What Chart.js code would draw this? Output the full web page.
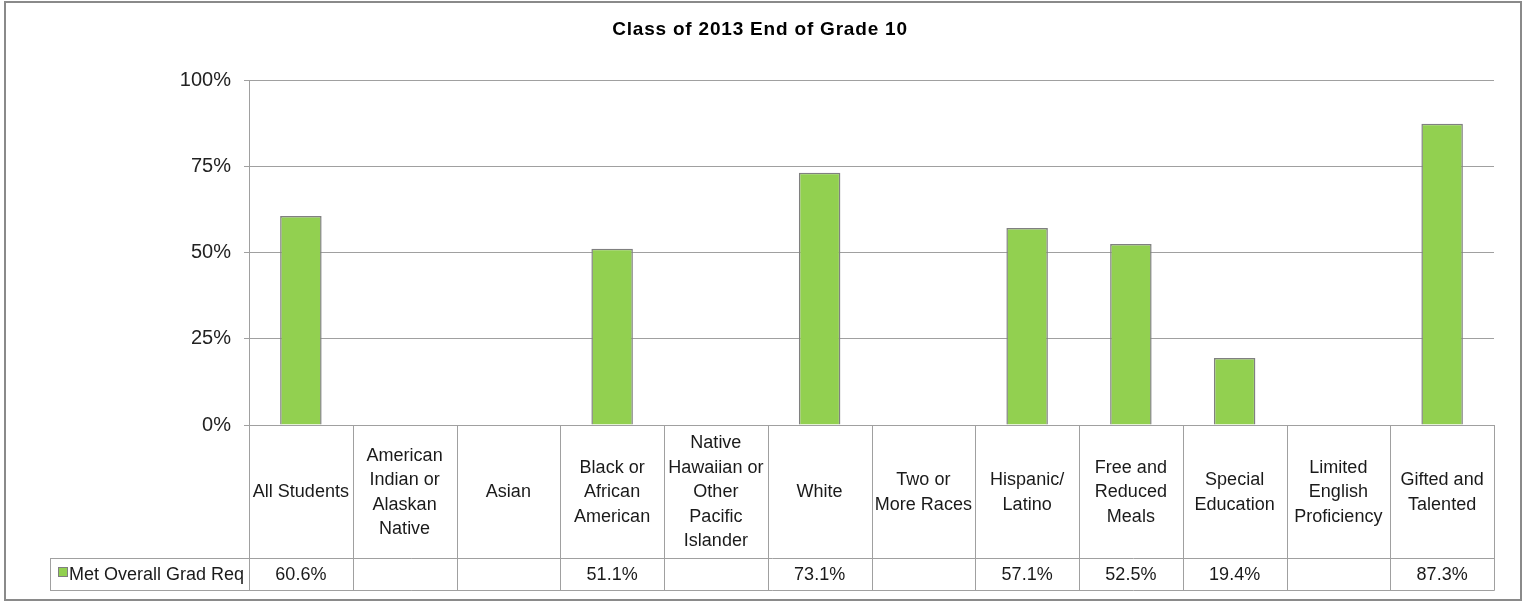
<!DOCTYPE html>
<html><head><meta charset="utf-8">
<script src="https://cdn.jsdelivr.net/npm/chart.js@4/dist/chart.umd.min.js"></script>
<style>html,body{margin:0;padding:0;background:#fff;overflow:hidden;}</style>
</head><body>
<canvas id="c" width="1525" height="603"></canvas>
<script>
const chartTitle = 'Class of 2013 End of Grade 10';
const seriesName = 'Met Overall Grad Req';
const categories = [
  ['All Students'],
  ['American', 'Indian or', 'Alaskan', 'Native'],
  ['Asian'],
  ['Black or', 'African', 'American'],
  ['Native', 'Hawaiian or', 'Other', 'Pacific', 'Islander'],
  ['White'],
  ['Two or', 'More Races'],
  ['Hispanic/', 'Latino'],
  ['Free and', 'Reduced', 'Meals'],
  ['Special', 'Education'],
  ['Limited', 'English', 'Proficiency'],
  ['Gifted and', 'Talented']
];
const metOverallGradReq = [60.6, null, null, 51.1, null, 73.1, null, 57.1, 52.5, 19.4, null, 87.3];
const yTickValues = [0, 25, 50, 75, 100];

const FONT = '"Liberation Sans", Arial, sans-serif';
const LINE = '#a0a0a0';
const BAR = '#92D050';

function px(v){ return Math.round(v) + 0.5; }

const framePlugin = {
  id: 'frame',
  beforeDraw(chart){
    const ctx = chart.ctx;
    ctx.save();
    ctx.fillStyle = '#fff';
    ctx.fillRect(0, 0, chart.width, chart.height);
    ctx.restore();
  },
  afterDraw(chart){
    const {ctx, chartArea: ca, scales} = chart;
    const x = scales.x;
    const n = categories.length;
    const colW = (ca.right - ca.left) / n;
    const top = ca.bottom;
    const rowB = top + 133;
    const valB = rowB + 32;
    const legendLeft = 50;
    ctx.save();
    // title
    ctx.fillStyle = '#000';
    ctx.font = 'bold 19px ' + FONT;
    ctx.textAlign = 'center';
    ctx.textBaseline = 'middle';
    try { ctx.letterSpacing = '0.8px'; } catch(e) {}
    ctx.fillText(chartTitle, 760, 30);
    try { ctx.letterSpacing = '0px'; } catch(e) {}

    ctx.strokeStyle = LINE;
    ctx.lineWidth = 1;
    const line = (x1, y1, x2, y2) => { ctx.beginPath(); ctx.moveTo(x1, y1); ctx.lineTo(x2, y2); ctx.stroke(); };
    line(ca.left, px(top), ca.right, px(top));
    line(legendLeft, px(rowB), ca.right + 0.5, px(rowB));
    line(legendLeft, px(valB), ca.right + 0.5, px(valB));
    for (let i = 0; i <= n; i++) {
      const xx = i < n ? x.getPixelForValue(i) - colW / 2 : x.getPixelForValue(n - 1) + colW / 2;
      line(px(xx), top, px(xx), px(valB));
    }
    line(px(legendLeft), px(rowB), px(legendLeft), px(valB));

    // category labels
    ctx.fillStyle = '#1a1a1a';
    ctx.font = '18px ' + FONT;
    ctx.textAlign = 'center';
    ctx.textBaseline = 'middle';
    const lh = 24.5;
    const midY = (top + rowB) / 2 + 1;
    categories.forEach((lines, i) => {
      const cx = x.getPixelForValue(i);
      const y0 = midY - (lines.length - 1) * lh / 2;
      lines.forEach((t, j) => ctx.fillText(t, cx, y0 + j * lh));
    });
    // values row
    const vy = (rowB + valB) / 2 + 1;
    metOverallGradReq.forEach((v, i) => {
      if (v === null) return;
      ctx.fillText(v.toFixed(1) + '%', x.getPixelForValue(i), vy);
    });
    // legend key
    ctx.fillStyle = BAR;
    ctx.fillRect(58, 567, 10, 10);
    ctx.strokeStyle = '#7f7f7f';
    ctx.strokeRect(58.5, 567.5, 9, 9);
    ctx.fillStyle = '#1a1a1a';
    ctx.textAlign = 'left';
    ctx.fillText(seriesName, 69, vy);

    // outer border
    ctx.strokeStyle = '#8a8a8a';
    ctx.lineWidth = 2;
    ctx.strokeRect(5, 2, 1516, 598);
    ctx.restore();
  }
};

new Chart(document.getElementById('c'), {
  type: 'bar',
  data: {
    labels: categories,
    datasets: [{
      label: seriesName,
      data: metOverallGradReq,
      backgroundColor: BAR,
      borderColor: '#808080',
      borderWidth: 1.5,
      borderSkipped: 'start',
      barPercentage: 0.4,
      categoryPercentage: 1.0
    }]
  },
  options: {
    responsive: false,
    animation: false,
    devicePixelRatio: 1,
    layout: { padding: { top: 80, left: 0, right: 31, bottom: 178 } },
    plugins: {
      legend: { display: false },
      tooltip: { enabled: false },
      title: { display: false }
    },
    scales: {
      x: { display: false },
      y: {
        min: 0,
        max: 100,
        afterFit(scale){ scale.width = 249; },
        afterBuildTicks(scale){ scale.ticks = yTickValues.map(v => ({ value: v })); },
        ticks: {
          stepSize: 25,
          padding: 13,
          color: '#222',
          font: { family: FONT, size: 20 },
          callback: v => v + '%'
        },
        grid: { color: LINE, tickLength: 5, drawTicks: true },
        border: { display: true, color: LINE }
      }
    }
  },
  plugins: [framePlugin]
});
</script>
</body></html>
